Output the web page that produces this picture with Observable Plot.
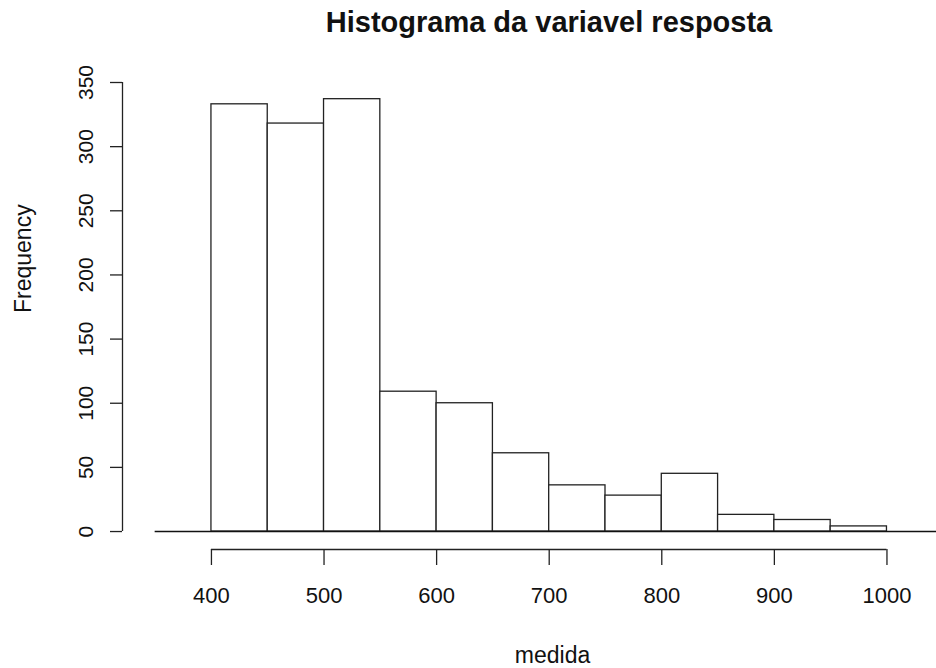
<!DOCTYPE html>
<html><head><meta charset="utf-8">
<script src="https://cdn.jsdelivr.net/npm/d3@7"></script>
<script src="https://cdn.jsdelivr.net/npm/@observablehq/plot@0.6"></script>
<style>
body{margin:0;background:#fff;font-family:"Liberation Sans",Arial,sans-serif;color:#111;}
#title{height:50px;width:936px;position:relative;}
#title span{position:absolute;left:549px;top:8px;transform:translateX(-50%);font-weight:bold;font-size:29px;line-height:1;white-space:nowrap;}
</style></head><body>
<div id="title"><span>Histograma da variavel resposta</span></div>
<div id="chart"></div>
<script>
const binStarts = [400, 450, 500, 550, 600, 650, 700, 750, 800, 850, 900, 950];
const binWidth = 50;
const frequencies = [333, 318, 337, 109, 100, 61, 36, 28, 45, 13, 9, 4];
const xTicks = [400, 500, 600, 700, 800, 900, 1000];
const yTicks = [0, 50, 100, 150, 200, 250, 300, 350];
const xLabel = "medida";
const yLabel = "Frequency";
const xDomain = [321, 1044];
const yDomain = [-14, 350];
const baselineRange = [350, 1044];

const bins = binStarts.map((s, i) => ({x1: s, x2: s + binWidth, count: frequencies[i]}));
const font = "'Liberation Sans', Arial, sans-serif";

const chart = Plot.plot({
  width: 936,
  height: 618,
  marginLeft: 122,
  marginRight: 0,
  marginTop: 32,
  marginBottom: 119,
  style: {fontFamily: font, color: "#111", background: "#fff"},
  x: {domain: xDomain, axis: null},
  y: {domain: yDomain, axis: null},
  marks: [
    Plot.rectY(bins, {x1: "x1", x2: "x2", y1: 0, y2: "count", fill: "white", stroke: "#222", strokeWidth: 1.3}),
    Plot.ruleY([0], {x1: baselineRange[0], x2: baselineRange[1], stroke: "#111", strokeWidth: 1.6}),
    Plot.ruleY([yDomain[0]], {x1: xTicks[0], x2: xTicks[xTicks.length - 1], stroke: "#222", strokeWidth: 1.3}),
    Plot.axisX({ticks: xTicks, tickSize: 16, tickPadding: 22, tickFormat: d => String(d), stroke: "#222", strokeWidth: 1.3,
      fontSize: 22, fill: "#111", label: null}),
    Plot.ruleX([xDomain[0]], {y1: yTicks[0], y2: yTicks[yTicks.length - 1], stroke: "#222", strokeWidth: 1.3}),
    Plot.axisY({ticks: yTicks, tickSize: 12, tickPadding: 18, tickRotate: -90, tickFormat: d => String(d), stroke: "#222", strokeWidth: 1.3,
      fontSize: 21, fill: "#111", label: null}),
    Plot.text([xLabel], {text: d => d, frameAnchor: "bottom", dx: 23, dy: 106, lineAnchor: "middle", fontSize: 23, fill: "#111"}),
    Plot.text([yLabel], {text: d => d, frameAnchor: "left", rotate: -90, dx: -99, dy: -3, lineAnchor: "middle", fontSize: 23, fill: "#111"})
  ]
});
document.getElementById("chart").appendChild(chart);
</script>
</body></html>
